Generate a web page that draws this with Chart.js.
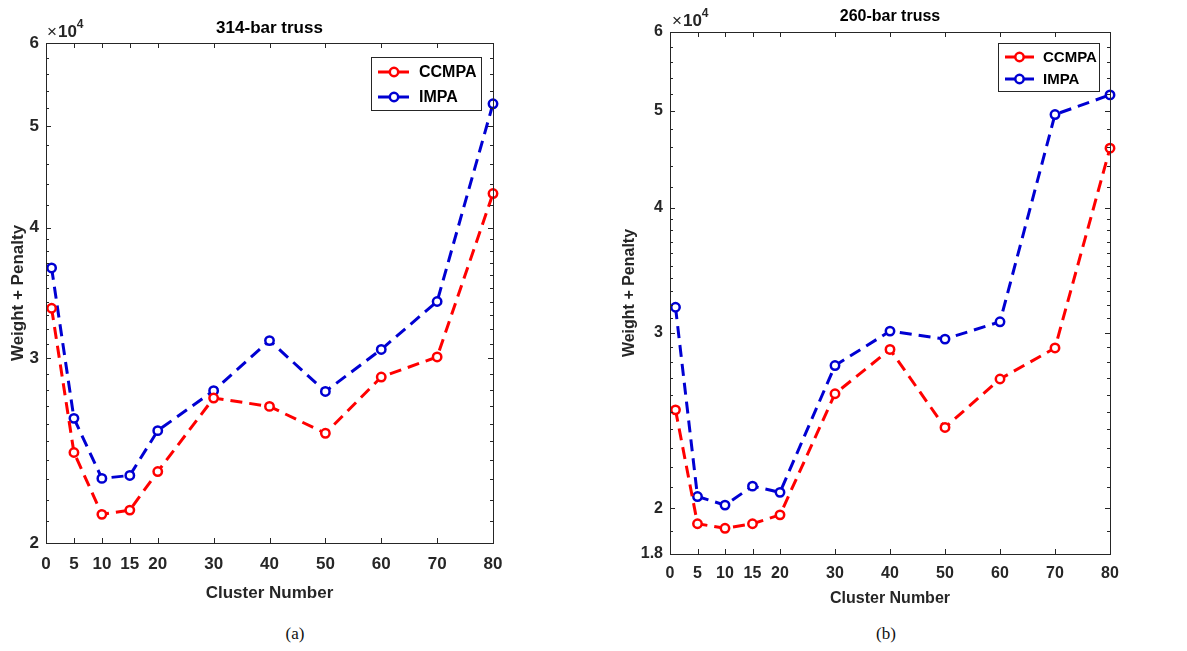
<!DOCTYPE html>
<html>
<head>
<meta charset="utf-8">
<script src="https://cdn.jsdelivr.net/npm/chart.js@4.4.1/dist/chart.umd.min.js"></script>
<style>
body { margin: 0; background: #fff; width: 1187px; height: 651px; position: relative; overflow: hidden; }
.panel { position: absolute; top: 0; }
.caption { position: absolute; top: 624px; width: 40px; text-align: center; font-family: "Liberation Serif", "DejaVu Serif", serif; font-size: 17px; color: #111; }
</style>
</head>
<body>
<div class="panel" style="left:0; width:560px; height:604px;"><canvas id="chart-314"></canvas></div>
<div class="panel" style="left:600px; width:587px; height:608px;"><canvas id="chart-260"></canvas></div>
<div class="caption" style="left:275px;">(a)</div>
<div class="caption" style="left:866px;">(b)</div>
<script>
// cluster numbers (x) and the two algorithms
const clusterNumbers = [1, 5, 10, 15, 20, 30, 40, 50, 60, 70, 80];
const xTickValues = [0, 5, 10, 15, 20, 30, 40, 50, 60, 70, 80];
const seriesNames = ['CCMPA', 'IMPA'];

// 314-bar truss
const ccmpa314 = [33500, 24400, 21300, 21500, 23400, 27500, 27000, 25450, 28800, 30100, 43100];
const impa314 = [36600, 26300, 23050, 23200, 25600, 27950, 31200, 27900, 30600, 34000, 52500];
const yTicks314 = [20000, 30000, 40000, 50000, 60000];
const yMinor314 = [21000, 22000, 23000, 24000, 25000, 26000, 27000, 28000, 29000,
                   31000, 32000, 33000, 34000, 35000, 36000, 37000, 38000, 39000,
                   42000, 44000, 46000, 48000, 52000, 54000, 56000, 58000];

// 260-bar truss
const ccmpa260 = [25100, 19300, 19100, 19300, 19700, 26050, 28850, 24100, 26950, 28950, 45900];
const impa260 = [31800, 20550, 20150, 21050, 20750, 27800, 30100, 29550, 30750, 49600, 51900];
const yTicks260 = [18000, 20000, 30000, 40000, 50000, 60000];
const yMinor260 = [19000, 21000, 22000, 23000, 24000, 25000, 26000, 27000, 28000, 29000,
                   31000, 32000, 33000, 34000, 35000, 36000, 37000, 38000, 39000,
                   42000, 44000, 46000, 48000, 52000, 54000, 56000, 58000];

const RED = '#ff0000';
const BLUE = '#0000d2';
const AXIS = '#262626';
const FONT = '"Liberation Sans", Arial, sans-serif';

// frame, inward ticks, x10^4 label, title and the MATLAB-like legend box
const matlabAxes = {
    id: 'matlabAxes',
    afterDraw(chart, args, opts) {
        const ctx = chart.ctx;
        const a = chart.chartArea;
        const x = chart.scales.x, y = chart.scales.y;
        ctx.save();
        ctx.strokeStyle = AXIS;
        ctx.lineWidth = 1;
        ctx.setLineDash([]);
        ctx.strokeRect(Math.round(a.left) + 0.5, Math.round(a.top) + 0.5, Math.round(a.width), Math.round(a.height));

        ctx.beginPath();
        opts.xTicks.forEach(v => {
            const px = Math.round(x.getPixelForValue(v)) + 0.5;
            ctx.moveTo(px, a.bottom); ctx.lineTo(px, a.bottom - 5);
            ctx.moveTo(px, a.top); ctx.lineTo(px, a.top + 5);
        });
        opts.yTicks.forEach(v => {
            const py = Math.round(y.getPixelForValue(v)) + 0.5;
            ctx.moveTo(a.left, py); ctx.lineTo(a.left + 5, py);
            ctx.moveTo(a.right, py); ctx.lineTo(a.right - 5, py);
        });
        opts.yMinor.forEach(v => {
            const py = Math.round(y.getPixelForValue(v)) + 0.5;
            ctx.moveTo(a.left, py); ctx.lineTo(a.left + 3, py);
            ctx.moveTo(a.right, py); ctx.lineTo(a.right - 3, py);
        });
        ctx.stroke();

        // exponent label
        ctx.fillStyle = AXIS;
        ctx.textBaseline = 'alphabetic';
        ctx.textAlign = 'left';
        let ex = a.left + opts.expDx;
        ctx.font = '17px ' + FONT;
        ctx.fillText('\u00d7', ex, a.top - 6);
        ex += ctx.measureText('\u00d7').width + 1;
        ctx.font = 'bold 17px ' + FONT;
        ctx.fillText('10', ex, a.top - 6);
        ex += ctx.measureText('10').width;
        ctx.font = 'bold 12px ' + FONT;
        ctx.fillText('4', ex, a.top - 15);

        // title
        ctx.fillStyle = '#000';
        ctx.textAlign = 'center';
        ctx.textBaseline = 'middle';
        ctx.font = 'bold ' + opts.titleSize + 'px ' + FONT;
        ctx.fillText(opts.title, (a.left + a.right) / 2, opts.titleY);

        // legend
        const lg = opts.legend;
        const bx = a.right - lg.gapRight - lg.width;
        const by = a.top + lg.gapTop;
        ctx.fillStyle = '#fff';
        ctx.fillRect(bx, by, lg.width, lg.height);
        ctx.strokeStyle = AXIS;
        ctx.lineWidth = 1;
        ctx.strokeRect(Math.round(bx) + 0.5, Math.round(by) + 0.5, lg.width, lg.height);
        chart.data.datasets.forEach((ds, i) => {
            const ry = by + lg.firstRow + i * lg.rowGap;
            ctx.strokeStyle = ds.borderColor;
            ctx.lineWidth = ds.borderWidth;
            ctx.setLineDash(ds.borderDash);
            ctx.beginPath();
            ctx.moveTo(bx + lg.lineStart, ry);
            ctx.lineTo(bx + lg.lineStart + lg.lineLen, ry);
            ctx.stroke();
            ctx.setLineDash([]);
            ctx.beginPath();
            ctx.arc(bx + lg.lineStart + lg.lineLen / 2, ry, ds.pointRadius, 0, Math.PI * 2);
            ctx.fillStyle = '#fff';
            ctx.fill();
            ctx.lineWidth = ds.pointBorderWidth;
            ctx.stroke();
            ctx.fillStyle = '#000';
            ctx.textAlign = 'left';
            ctx.font = 'bold ' + lg.fontSize + 'px ' + FONT;
            ctx.fillText(ds.label, bx + lg.textX, ry + 1);
        });
        ctx.restore();
    }
};

function makeDataset(label, color, xs, ys) {
    return {
        label: label,
        data: xs.map((c, i) => ({ x: c, y: ys[i] })),
        borderColor: color,
        backgroundColor: color,
        borderWidth: 3,
        borderDash: [12, 7],
        pointRadius: 4.2,
        pointBorderWidth: 2.5,
        pointBackgroundColor: '#fff',
        pointBorderColor: color,
        tension: 0,
        clip: false
    };
}

function makeChart(canvasId, cfg) {
    return new Chart(document.getElementById(canvasId), {
        type: 'line',
        data: {
            datasets: [
                makeDataset(seriesNames[0], RED, clusterNumbers, cfg.ccmpa),
                makeDataset(seriesNames[1], BLUE, clusterNumbers, cfg.impa)
            ]
        },
        options: {
            responsive: true,
            maintainAspectRatio: false,
            animation: false,
            layout: { padding: cfg.padding },
            plugins: {
                legend: { display: false },
                tooltip: { enabled: false },
                matlabAxes: cfg.axes
            },
            scales: {
                x: {
                    type: 'linear',
                    min: 0,
                    max: 80,
                    afterBuildTicks: s => { s.ticks = xTickValues.map(v => ({ value: v })); },
                    afterFit: s => { s.height = cfg.xHeight; },
                    grid: { display: false, drawTicks: false },
                    border: { display: false },
                    ticks: {
                        autoSkip: false, maxRotation: 0, padding: cfg.xPad,
                        color: AXIS, font: { family: FONT, size: cfg.fontSize, weight: 'bold' },
                        callback: v => String(v)
                    },
                    title: {
                        display: true, text: 'Cluster Number', padding: 0, color: AXIS,
                        font: { family: FONT, size: cfg.fontSize, weight: 'bold' }
                    }
                },
                y: {
                    type: 'logarithmic',
                    min: cfg.yTicks[0],
                    max: cfg.yTicks[cfg.yTicks.length - 1],
                    afterBuildTicks: s => { s.ticks = cfg.yTicks.map(v => ({ value: v })); },
                    afterFit: s => { s.width = cfg.yWidth; },
                    grid: { display: false, drawTicks: false },
                    border: { display: false },
                    ticks: {
                        autoSkip: false, padding: 7,
                        color: AXIS, font: { family: FONT, size: cfg.fontSize, weight: 'bold' },
                        callback: v => String(+(v / 10000).toFixed(1))
                    },
                    title: {
                        display: true, text: 'Weight + Penalty', padding: 0, color: AXIS,
                        font: { family: FONT, size: cfg.fontSize, weight: 'bold' }
                    }
                }
            }
        },
        plugins: [matlabAxes]
    });
}

makeChart('chart-314', {
    ccmpa: ccmpa314, impa: impa314, yTicks: yTicks314,
    padding: { top: 43, right: 67, left: 8, bottom: 0 },
    yWidth: 38, xHeight: 61, xPad: 11, fontSize: 17,
    axes: {
        xTicks: xTickValues, yTicks: yTicks314, yMinor: yMinor314,
        title: '314-bar truss', titleY: 28, titleSize: 17, expDx: 1,
        legend: { gapRight: 12, gapTop: 14, width: 110, height: 53, firstRow: 15, rowGap: 25,
                  lineStart: 7, lineLen: 32, textX: 48, fontSize: 16 }
    }
});

makeChart('chart-260', {
    ccmpa: ccmpa260, impa: impa260, yTicks: yTicks260,
    padding: { top: 32, right: 77, left: 20, bottom: 0 },
    yWidth: 50, xHeight: 54, xPad: 10, fontSize: 16,
    axes: {
        xTicks: xTickValues, yTicks: yTicks260, yMinor: yMinor260,
        title: '260-bar truss', titleY: 17, titleSize: 16, expDx: 2,
        legend: { gapRight: 11, gapTop: 11, width: 101, height: 48, firstRow: 14, rowGap: 22,
                  lineStart: 7, lineLen: 29, textX: 45, fontSize: 15 }
    }
});
</script>
</body>
</html>
